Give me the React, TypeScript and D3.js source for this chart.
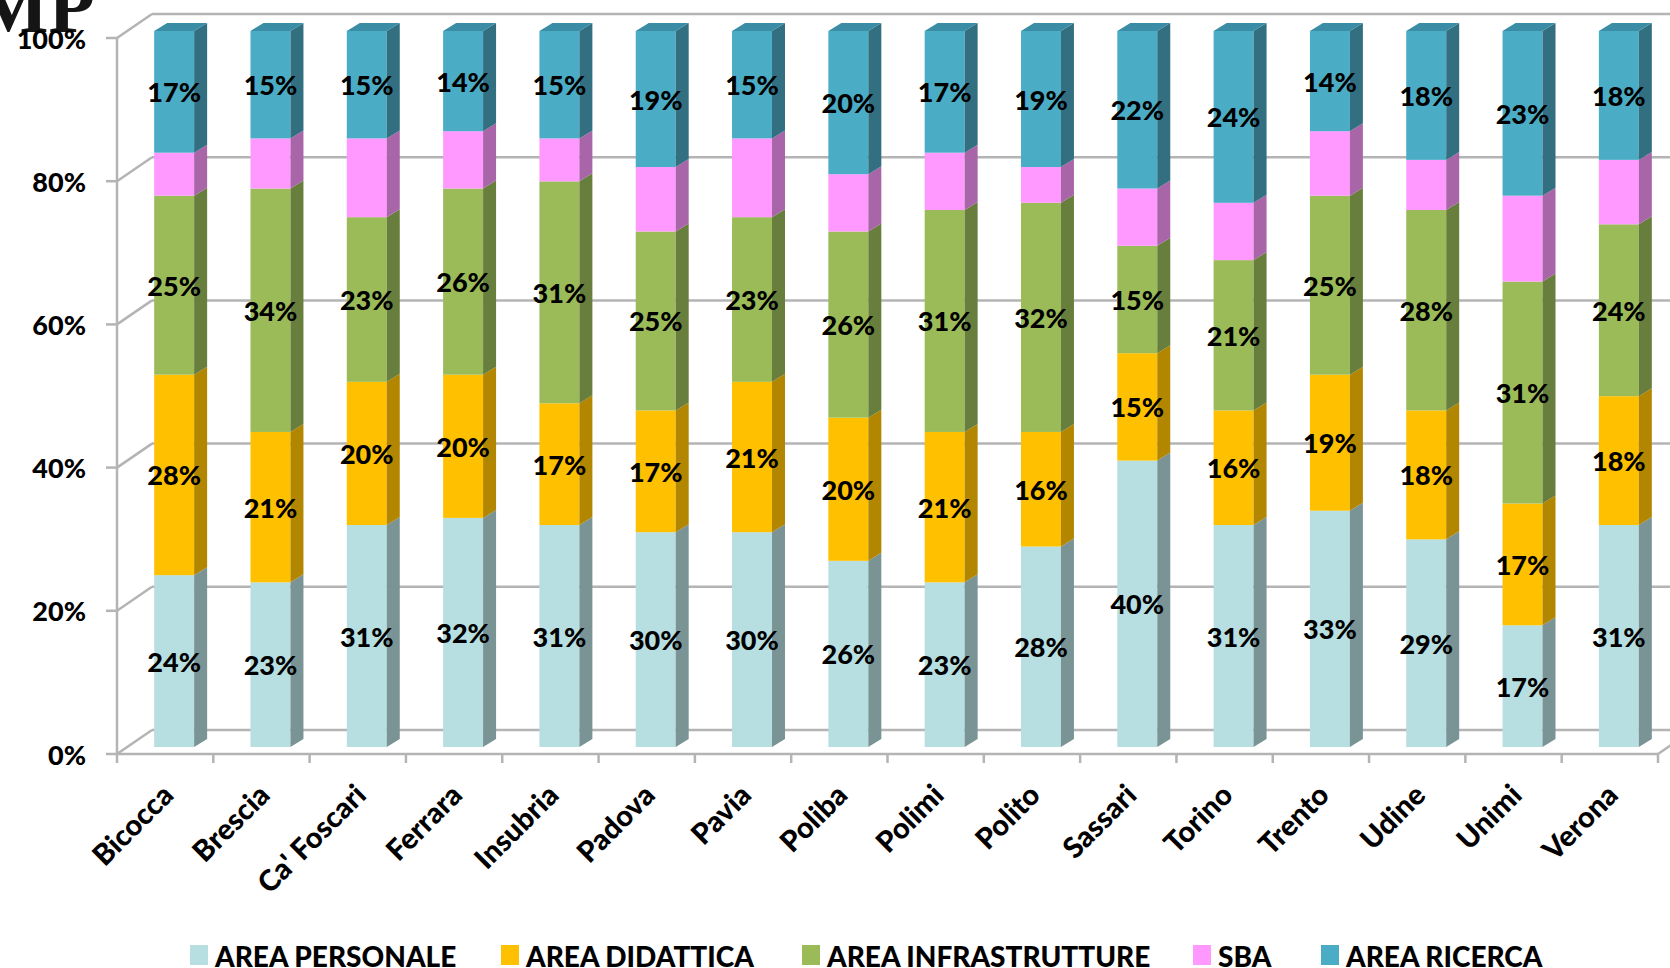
import React from "react";
import * as d3 from "d3";

const categories = ["Bicocca", "Brescia", "Ca' Foscari", "Ferrara", "Insubria", "Padova", "Pavia", "Poliba", "Polimi", "Polito", "Sassari", "Torino", "Trento", "Udine", "Unimi", "Verona"];
const seriesNames = ["AREA PERSONALE", "AREA DIDATTICA", "AREA INFRASTRUTTURE", "SBA", "AREA RICERCA"];
const personale = [24, 23, 31, 32, 31, 30, 30, 26, 23, 28, 40, 31, 33, 29, 17, 31];
const didattica = [28, 21, 20, 20, 17, 17, 21, 20, 21, 16, 15, 16, 19, 18, 17, 18];
const infrastrutture = [25, 34, 23, 26, 31, 25, 23, 26, 31, 32, 15, 21, 25, 28, 31, 24];
const sba = [6, 7, 11, 8, 6, 9, 11, 8, 8, 5, 8, 8, 9, 7, 12, 9];
const ricerca = [17, 15, 15, 14, 15, 19, 15, 20, 17, 19, 22, 24, 14, 18, 23, 18];
const showLabel = [true, true, true, false, true];
const yTicks = [0, 20, 40, 60, 80, 100];

const frontColors = ["#B7DEE0", "#FFC000", "#9BBB59", "#FF99FF", "#4BACC6"];
const sideColors = ["#7A9496", "#B38600", "#687E3C", "#A866A8", "#326F80"];
const topColor = "#3A8DA4";
const legendX = [190, 501, 802, 1193, 1321];

const W = 1670, H = 968;
const FONT = "Lato, 'Open Sans', sans-serif";

export default function App() {
  const seriesVals = [personale, didattica, infrastrutture, sba, ricerca];
  const rows = categories.map((c, i) => {
    const o: any = { cat: c };
    seriesNames.forEach((s, k) => (o[s] = seriesVals[k][i]));
    return o;
  });
  const stacked = d3.stack<any>().keys(seriesNames)(rows);

  const x = d3.scaleBand<string>().domain(categories).range([117, 1658]).paddingInner(0.585).paddingOuter(0.2925);
  const y = d3.scaleLinear().domain([0, 100]).range([754, 38]);
  const wallDx = 35, wallDy = -24;
  const barDx = 9, barDy = -7;
  const depthDx = 13, depthDy = -8;
  const bw = x.bandwidth();
  const step = x.step();
  const grid = "#b4b4b4";

  const xTickPositions = d3.range(categories.length + 1).map((i) => 117 + i * step);

  return (
    <svg width={W} height={H} style={{ position: "absolute", left: 0, top: 0, background: "#fff" }} fontFamily={FONT}>
      <rect width={W} height={H} fill="#fff" />
      {/* fragment of slide title */}
      <text x={95} y={32} textAnchor="end" fontFamily="'Liberation Serif', serif" fontWeight="bold" fontSize={76} fill="#151515">MP</text>
      {/* back wall gridlines */}
      {yTicks.map((t) => (
        <g key={"g" + t}>
          <line x1={117 + wallDx} y1={y(t) + wallDy} x2={W + 10} y2={y(t) + wallDy} stroke={grid} strokeWidth={2.5} />
          <line x1={117} y1={y(t)} x2={117 + wallDx} y2={y(t) + wallDy} stroke={grid} strokeWidth={2.5} />
          <line x1={106} y1={y(t)} x2={117} y2={y(t)} stroke={grid} strokeWidth={2.5} />
        </g>
      ))}
      {/* floor */}
      <line x1={117} y1={y(0)} x2={1658} y2={y(0)} stroke={grid} strokeWidth={2.5} />
      <line x1={1658} y1={y(0)} x2={1658 + wallDx} y2={y(0) + wallDy} stroke={grid} strokeWidth={2.5} />
      <line x1={117} y1={y(100)} x2={117} y2={y(0)} stroke={grid} strokeWidth={2.5} />
      {xTickPositions.map((tx, i) => (
        <line key={"xt" + i} x1={tx} y1={y(0)} x2={tx} y2={y(0) + 9} stroke={grid} strokeWidth={2.5} />
      ))}
      {/* y labels */}
      {yTicks.map((t) => (
        <text key={"yl" + t} x={86} y={y(t)} textAnchor="end" dominantBaseline="central" fontSize={27} fontWeight={900} fill="#000">{t}%</text>
      ))}
      {/* bars */}
      {categories.map((c, i) => {
        const bx = (x(c) as number) + barDx;
        return (
          <g key={c}>
            {stacked.map((s, k) => {
              const d = s[i];
              const yt = y(d[1]) + barDy;
              const yb = y(d[0]) + barDy;
              return (
                <g key={k}>
                  <rect x={bx} y={yt} width={bw} height={yb - yt} fill={frontColors[k]} />
                  <polygon
                    points={`${bx + bw},${yt} ${bx + bw + depthDx},${yt + depthDy} ${bx + bw + depthDx},${yb + depthDy} ${bx + bw},${yb}`}
                    fill={sideColors[k]}
                  />
                </g>
              );
            })}
            {(() => {
              const yt = y(100) + barDy;
              return (
                <polygon points={`${bx},${yt} ${bx + depthDx},${yt + depthDy} ${bx + bw + depthDx},${yt + depthDy} ${bx + bw},${yt}`} fill={topColor} />
              );
            })()}
            {stacked.map((s, k) => {
              if (!showLabel[k]) return null;
              const d = s[i];
              const ym = y((d[0] + d[1]) / 2) + barDy;
              return (
                <text key={"l" + k} x={bx + bw / 2} y={ym} textAnchor="middle" dominantBaseline="central" fontSize={27} fontWeight={900} fill="#000">
                  {Math.round(d[1] - d[0])}%
                </text>
              );
            })}
          </g>
        );
      })}
      {/* category labels */}
      {categories.map((c) => {
        const cx = (x(c) as number) + bw / 2 + 10;
        return (
          <text key={"c" + c} transform={`translate(${cx},${797}) rotate(-45)`} textAnchor="end" fontSize={29} fontWeight={900} fill="#000">{c}</text>
        );
      })}
      {/* legend */}
      {seriesNames.map((s, k) => (
        <g key={"lg" + s}>
          <rect x={legendX[k]} y={945} width={18} height={20} fill={frontColors[k]} />
          <text x={legendX[k] + 25} y={967} fontSize={28} fontWeight={900} fill="#000">{s}</text>
        </g>
      ))}
    </svg>
  );
}
